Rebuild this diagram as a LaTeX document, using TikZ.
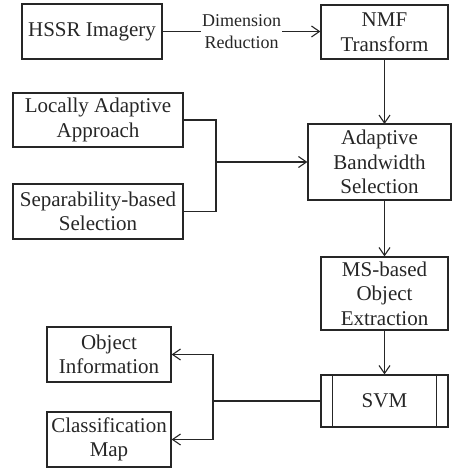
\documentclass[tikz,border=0pt]{standalone}
\usepackage{fontspec}
\setmainfont{Liberation Serif}
\usetikzlibrary{arrows.meta}
\definecolor{ink}{HTML}{262626}
\tikzset{
  box/.style={draw=ink, line width=1.2pt, text=ink, align=center, inner sep=0pt,
    font=\fontsize{21}{24.5}\selectfont},
  conn/.style={draw=ink, line width=1.2pt},
  arr/.style={conn, -{Straight Barb[length=8pt,width=11pt,line width=1.1pt]}},
  lbl/.style={text=ink, align=center, fill=white, inner xsep=1pt, inner ysep=0pt,
    font=\fontsize{18}{22}\selectfont}
}
\begin{document}
\begin{tikzpicture}[x=1pt,y=-1pt]
\useasboundingbox (0,0) rectangle (455,470);

% process boxes
\node[box, minimum width=140pt, minimum height=55pt] (hssr) at (92,31.5) {HSSR Imagery};
\node[box, minimum width=127pt, minimum height=54pt] (nmf) at (384.5,32) {NMF\\Transform};
\node[box, minimum width=170pt, minimum height=54pt] (la) at (98,120) {Locally Adaptive\\Approach};
\node[box, minimum width=170pt, minimum height=55pt] (sep) at (98,211.5) {Separability-based\\Selection};
\node[box, minimum width=143pt, minimum height=76pt] (abs) at (379.5,162) {Adaptive\\Bandwidth\\Selection};
\node[box, minimum width=127pt, minimum height=73pt] (ms) at (384.5,293.5) {MS-based\\Object\\Extraction};
\node[box, minimum width=127pt, minimum height=52pt] (svm) at (384.5,401) {SVM};
\node[box, minimum width=124pt, minimum height=55pt] (oi) at (109,354.5) {Object\\Information};
\node[box, minimum width=124pt, minimum height=55pt] (cm) at (109,439.5) {Classification\\Map};

% predefined-process bars of the SVM box
\draw[conn] ([xshift=12pt]svm.north west) -- ([xshift=12pt]svm.south west);
\draw[conn] ([xshift=-12pt]svm.north east) -- ([xshift=-12pt]svm.south east);

% junction points
\coordinate (jl) at (216,162);
\coordinate (jr) at (213,401);

% connectors
\draw[arr] (hssr.east) -- node[lbl] {Dimension\\Reduction} (nmf.west |- hssr.east);
\draw[arr] (384.5,59) -- (384.5,124);
\draw[conn] (la.east) -| (jl) |- (sep.east);
\draw[arr] (jl) -- (abs.west |- jl);
\draw[arr] (384.5,200) -- (ms.north);
\draw[arr] (ms.south) -- (svm.north);
\draw[conn] (svm.west) -- (jr);
\draw[arr] (jr) |- (oi.east);
\draw[arr] (jr) |- (cm.east);
\end{tikzpicture}
\end{document}
